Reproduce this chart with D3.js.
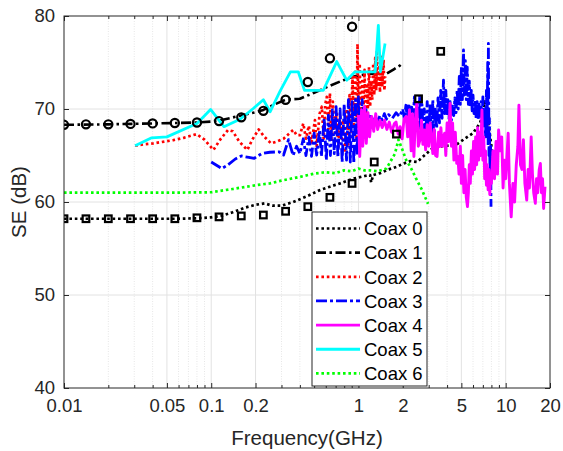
<!DOCTYPE html>
<html>
<head>
<meta charset="utf-8">
<script src="https://cdn.jsdelivr.net/npm/d3@7"></script>
<style>
  html, body { margin: 0; padding: 0; background: #ffffff; }
  svg text { font-family: "Liberation Sans", Arial, Helvetica, sans-serif; }
</style>
</head>
<body>
<svg id="chart" width="563" height="451"></svg>
<script>
// ---- Shielding effectiveness of seven coax samples vs frequency ----

// Coax 0: measured curve (GHz, dB)
const freqCoax0 = [0.01, 0.02, 0.04, 0.06, 0.08, 0.1, 0.12, 0.14, 0.17, 0.2, 0.23, 0.26, 0.3, 0.36, 0.445, 0.55, 0.64, 0.75, 0.92, 1.1, 1.2, 1.22, 1.26, 1.4, 1.6, 1.83, 2.0, 2.25, 2.5, 2.8, 3.25, 3.8, 4.65, 5.5, 6.0, 6.7, 7.0, 7.2, 7.4, 7.7, 8.0, 8.25, 8.5];
const seCoax0   = [58.2, 58.2, 58.2, 58.2, 58.25, 58.35, 58.55, 58.9, 59.4, 59.7, 59.85, 59.6, 59.6, 60.0, 60.6, 61.3, 61.65, 62.0, 62.5, 62.8, 62.9, 62.1, 62.9, 63.1, 63.5, 63.8, 64.1, 64.4, 64.3, 65.0, 65.9, 66.0, 66.2, 67.0, 67.4, 68.5, 69.5, 70.8, 70.0, 68.0, 66.0, 64.5, 63.8];

// Coax 0: calculated points (square markers)
const freqCoax0Pts = [0.01, 0.0141, 0.02, 0.0283, 0.04, 0.0566, 0.08, 0.113, 0.16, 0.226, 0.32, 0.453, 0.64, 0.905, 1.28, 1.81, 2.56, 3.62];
const seCoax0Pts   = [58.2, 58.2, 58.2, 58.2, 58.2, 58.2, 58.3, 58.4, 58.5, 58.6, 59.0, 59.5, 60.5, 62.0, 64.3, 67.3, 71.1, 76.2];

// Coax 1: measured curve
const freqCoax1 = [0.01, 0.02, 0.04, 0.06, 0.08, 0.1, 0.12, 0.15, 0.2, 0.226, 0.27, 0.32, 0.4, 0.5, 0.6, 0.75, 0.92, 1.2, 1.55, 1.75, 1.92, 1.98];
const seCoax1   = [68.3, 68.35, 68.45, 68.5, 68.55, 68.65, 68.85, 69.2, 69.65, 69.9, 70.5, 71.0, 71.1, 71.75, 72.3, 72.95, 73.5, 73.8, 73.8, 74.3, 74.7, 74.9];

// Coax 1: calculated points (circle markers)
const freqCoax1Pts = [0.01, 0.0141, 0.02, 0.0283, 0.04, 0.0566, 0.08, 0.113, 0.16, 0.226, 0.32, 0.453, 0.64, 0.905];
const seCoax1Pts   = [68.3, 68.35, 68.35, 68.4, 68.45, 68.5, 68.55, 68.7, 69.1, 69.8, 71.0, 72.9, 75.45, 78.85];

// Coax 2
const freqCoax2 = [0.0304, 0.035, 0.0404, 0.048, 0.0553, 0.065, 0.0797, 0.09, 0.1035, 0.115, 0.13, 0.14, 0.155, 0.176, 0.19, 0.21, 0.23, 0.255, 0.28, 0.31, 0.335, 0.361, 0.38, 0.401, 0.422, 0.44, 0.46, 0.48, 0.5065, 0.52, 0.545, 0.5638, 0.58, 0.595, 0.609, 0.625, 0.64, 0.655, 0.67, 0.69, 0.71, 0.73, 0.75, 0.77, 0.79, 0.81, 0.83, 0.85, 0.87, 0.89, 0.91, 0.93, 0.95, 0.97, 0.985, 1.0, 1.02, 1.04, 1.06, 1.08, 1.1, 1.12, 1.14, 1.16, 1.18, 1.2, 1.22, 1.24, 1.26, 1.28, 1.3, 1.32, 1.335, 1.36, 1.38, 1.4, 1.42, 1.45, 1.48, 1.5, 1.52];
const seCoax2   = [66.05, 66.2, 66.3, 66.5, 66.65, 66.9, 67.3, 66.7, 65.6, 66.7, 67.75, 67.6, 66.5, 65.6, 66.7, 67.8, 67.0, 66.3, 66.5, 66.8, 67.3, 67.75, 67.2, 67.2, 68.45, 66.8, 68.2, 66.4, 68.8, 66.0, 69.5, 70.25, 66.8, 70.5, 71.3, 67.8, 71.7, 66.5, 70.8, 67.4, 69.6, 65.9, 69.2, 66.8, 68.8, 65.3, 70.0, 66.2, 71.5, 67.0, 73.5, 68.0, 74.0, 66.7, 77.0, 69.5, 74.9, 68.0, 73.0, 69.5, 74.2, 68.5, 72.5, 70.2, 74.5, 70.25, 73.0, 71.0, 74.9, 71.5, 75.5, 72.0, 76.3, 72.4, 74.5, 71.8, 75.6, 72.4, 75.3, 72.0, 73.5];

// Coax 3
const freqCoax3 = [0.1, 0.11, 0.118, 0.13, 0.145, 0.16, 0.18, 0.196, 0.22, 0.25, 0.29, 0.31, 0.335, 0.36, 0.38, 0.4, 0.422, 0.44, 0.46, 0.48, 0.5, 0.52, 0.545, 0.56, 0.585, 0.605, 0.625, 0.645, 0.665, 0.685, 0.705, 0.725, 0.75, 0.775, 0.8, 0.83, 0.855, 0.88, 0.905, 0.93, 0.955, 0.98, 1.0, 1.03, 1.06, 1.09, 1.12, 1.15, 1.2, 1.25, 1.3, 1.35, 1.4, 1.45, 1.5, 1.55, 1.6, 1.7, 1.8, 1.9, 2.0, 2.05, 2.1, 2.15, 2.2, 2.25, 2.3, 2.35, 2.4, 2.45, 2.5, 2.55, 2.6, 2.65, 2.7, 2.75, 2.8, 2.87, 2.93, 3.0, 3.07, 3.14, 3.2, 3.25, 3.32, 3.4, 3.47, 3.55, 3.62, 3.7, 3.78, 3.85, 3.92, 3.98, 4.05, 4.12, 4.2, 4.28, 4.36, 4.44, 4.52, 4.6, 4.68, 4.76, 4.84, 4.92, 5.0, 5.08, 5.17, 5.24, 5.32, 5.4, 5.48, 5.58, 5.66, 5.75, 5.84, 5.92, 6.0, 6.1, 6.2, 6.3, 6.4, 6.5, 6.6, 6.7, 6.8, 6.9, 7.0, 7.1, 7.2, 7.3, 7.4, 7.48, 7.55, 7.6, 7.63, 7.7, 7.75, 7.8, 7.85, 7.9, 7.95];
const seCoax3   = [64.3, 63.9, 63.6, 64.0, 64.6, 64.95, 64.8, 64.7, 65.2, 65.35, 65.4, 65.05, 66.7, 65.0, 66.0, 65.2, 66.8, 65.0, 67.0, 64.9, 67.4, 65.05, 67.75, 64.9, 69.0, 64.5, 69.35, 65.0, 69.9, 65.2, 70.25, 64.8, 70.0, 64.3, 70.5, 64.5, 71.0, 64.3, 70.8, 64.15, 71.0, 65.0, 71.3, 66.0, 71.0, 69.2, 70.2, 68.5, 69.5, 68.3, 69.2, 68.6, 69.3, 68.8, 69.5, 68.9, 69.4, 69.0, 69.6, 69.2, 70.0, 68.9, 70.4, 69.0, 70.6, 68.6, 70.2, 68.8, 71.3, 68.2, 70.0, 67.8, 71.3, 68.0, 70.5, 67.5, 70.0, 67.2, 70.8, 67.75, 70.5, 66.8, 71.0, 66.3, 70.2, 68.0, 71.2, 68.5, 72.0, 69.0, 73.1, 69.5, 72.0, 69.5, 71.0, 69.0, 70.8, 68.8, 70.5, 69.3, 71.2, 69.6, 72.0, 70.0, 73.5, 70.5, 74.5, 71.0, 76.35, 71.5, 75.2, 71.0, 74.5, 70.5, 73.0, 70.25, 72.0, 69.8, 71.5, 69.5, 71.0, 69.0, 70.8, 68.8, 70.5, 69.2, 70.8, 68.5, 71.3, 68.0, 70.0, 67.0, 72.0, 68.0, 75.0, 66.0, 77.05, 65.0, 69.0, 64.9, 62.0, 66.0, 59.5];

// Coax 4
const freqCoax4 = [1.0, 1.02, 1.05, 1.07, 1.1, 1.13, 1.16, 1.19, 1.23, 1.27, 1.31, 1.35, 1.4, 1.45, 1.5, 1.56, 1.62, 1.68, 1.75, 1.8, 1.86, 1.92, 1.98, 2.04, 2.11, 2.16, 2.22, 2.28, 2.33, 2.38, 2.43, 2.49, 2.55, 2.62, 2.68, 2.74, 2.8, 2.86, 2.93, 3.0, 3.07, 3.13, 3.2, 3.27, 3.34, 3.42, 3.5, 3.56, 3.63, 3.7, 3.78, 3.85, 3.92, 4.0, 4.1, 4.19, 4.28, 4.36, 4.45, 4.55, 4.65, 4.73, 4.82, 4.92, 5.0, 5.1, 5.2, 5.3, 5.4, 5.5, 5.58, 5.66, 5.75, 5.85, 5.95, 6.05, 6.15, 6.25, 6.35, 6.45, 6.55, 6.65, 6.75, 6.9, 7.0, 7.1, 7.2, 7.3, 7.4, 7.5, 7.6, 7.7, 7.8, 7.9, 8.0, 8.2, 8.4, 8.6, 8.8, 8.95, 9.2, 9.4, 9.6, 9.8, 10.0, 10.2, 10.4, 10.6, 10.9, 11.2, 11.5, 11.8, 12.1, 12.3, 12.6, 12.9, 13.2, 13.5, 13.9, 14.2, 14.5, 14.9, 15.2, 15.5, 15.9, 16.2, 16.5, 16.9, 17.2, 17.5, 17.8, 18.1, 18.5];
const seCoax4   = [69.35, 64.9, 69.9, 66.0, 70.25, 66.3, 69.6, 67.0, 69.2, 67.6, 69.5, 67.8, 68.8, 68.0, 68.8, 67.8, 68.6, 67.5, 68.4, 68.6, 67.3, 68.1, 66.8, 68.9, 69.2, 67.0, 69.9, 65.5, 69.5, 64.9, 68.5, 70.6, 66.0, 66.7, 68.8, 66.2, 67.75, 65.6, 68.3, 66.0, 68.5, 67.0, 65.2, 67.8, 65.0, 64.9, 67.5, 65.95, 68.0, 66.0, 67.0, 67.4, 65.0, 68.5, 66.5, 70.6, 66.0, 68.5, 64.5, 67.5, 64.15, 64.9, 63.0, 66.0, 62.0, 65.0, 61.0, 63.5, 60.5, 59.5, 61.0, 64.0, 62.0, 65.5, 63.0, 66.5, 63.5, 67.0, 64.0, 68.0, 64.5, 67.5, 65.0, 69.9, 64.5, 67.0, 62.5, 65.5, 61.8, 64.0, 61.3, 63.5, 60.8, 63.0, 62.0, 65.5, 62.5, 66.5, 63.0, 67.75, 65.5, 67.0, 61.5, 64.5, 62.5, 65.0, 67.4, 62.0, 58.4, 62.0, 60.0, 64.0, 66.0, 70.4, 64.0, 63.5, 66.7, 62.0, 60.2, 63.5, 61.5, 67.0, 63.0, 61.0, 59.85, 62.5, 61.0, 63.5, 64.15, 61.0, 62.5, 59.3, 61.65];

// Coax 5
const freqCoax5 = [0.0304, 0.0394, 0.05, 0.08, 0.099, 0.122, 0.157, 0.193, 0.226, 0.251, 0.293, 0.345, 0.39, 0.43, 0.577, 0.712, 0.832, 0.948, 1.3, 1.365, 1.41, 1.516];
const seCoax5   = [66.05, 66.9, 67.0, 68.45, 69.95, 68.1, 68.9, 70.05, 71.0, 69.7, 71.9, 74.0, 74.0, 72.0, 72.0, 75.1, 73.1, 74.0, 74.0, 79.0, 74.0, 77.05];

// Coax 6
const freqCoax6 = [0.01, 0.02, 0.05, 0.1, 0.14, 0.2, 0.25, 0.3, 0.4, 0.5, 0.6, 0.7, 0.8, 0.9, 1.0, 1.1, 1.2, 1.35, 1.55, 1.77, 1.87, 2.0, 2.11, 2.25, 2.45, 2.7, 2.97];
const seCoax6   = [61.0, 61.0, 61.0, 61.05, 61.4, 61.8, 62.0, 62.3, 62.7, 63.05, 63.2, 63.1, 63.4, 63.3, 63.6, 63.4, 63.4, 63.3, 63.6, 65.2, 66.7, 65.5, 64.5, 63.8, 62.6, 61.3, 59.8];

// Axis ticks
const xTickValues = [0.01, 0.05, 0.1, 0.2, 1, 2, 5, 10, 20];
const xTickLabels = ["0.01", "0.05", "0.1", "0.2", "1", "2", "5", "10", "20"];
const xMinorValues = [0.02, 0.03, 0.04, 0.06, 0.07, 0.08, 0.09, 0.3, 0.4, 0.5, 0.6, 0.7, 0.8, 0.9, 3, 4, 6, 7, 8, 9];
const yTickValues = [40, 50, 60, 70, 80];

const seriesNames = ["Coax 0", "Coax 1", "Coax 2", "Coax 3", "Coax 4", "Coax 5", "Coax 6"];

// ---- drawing ----
const W = 563, H = 451;
const plot = { left: 64, right: 550, top: 16, bottom: 388 };

const x = d3.scaleLog().domain([0.01, 20]).range([plot.left, plot.right]);
const y = d3.scaleLinear().domain([40, 80]).range([plot.bottom, plot.top]);

const svg = d3.select("#chart");
svg.append("rect").attr("width", W).attr("height", H).attr("fill", "#ffffff");

const axisColor = "#262626";

// grid
const grid = svg.append("g");
grid.selectAll("line.minor").data(xMinorValues).join("line")
  .attr("x1", d => x(d)).attr("x2", d => x(d))
  .attr("y1", plot.top).attr("y2", plot.bottom)
  .attr("stroke", "#e6e6e6").attr("stroke-width", 1)
  .attr("stroke-dasharray", "1,1.5");
grid.selectAll("line.vmaj").data(xTickValues.slice(1, -1)).join("line")
  .attr("x1", d => x(d)).attr("x2", d => x(d))
  .attr("y1", plot.top).attr("y2", plot.bottom)
  .attr("stroke", "#e2e2e2").attr("stroke-width", 1);
grid.selectAll("line.hmaj").data(yTickValues.slice(1, -1)).join("line")
  .attr("x1", plot.left).attr("x2", plot.right)
  .attr("y1", d => y(d)).attr("y2", d => y(d))
  .attr("stroke", "#e2e2e2").attr("stroke-width", 1);

// clipping for the data
svg.append("defs").append("clipPath").attr("id", "plotClip")
  .append("rect").attr("x", plot.left).attr("y", plot.top)
  .attr("width", plot.right - plot.left).attr("height", plot.bottom - plot.top);

const zip = (fs, vs) => fs.map((f, i) => [f, vs[i]]);
const seriesData = [
  zip(freqCoax0, seCoax0), zip(freqCoax1, seCoax1), zip(freqCoax2, seCoax2),
  zip(freqCoax3, seCoax3), zip(freqCoax4, seCoax4), zip(freqCoax5, seCoax5),
  zip(freqCoax6, seCoax6)
];
const seriesStyle = [
  { color: "#000000", dash: "2.6,2.8", width: 2.7 },
  { color: "#000000", dash: "10,3.5,2.5,3.5", width: 2.6 },
  { color: "#ff0000", dash: "2.6,2.8", width: 2.7 },
  { color: "#0000ff", dash: "11,3,3,3", width: 2.8 },
  { color: "#ff00ff", dash: null, width: 2.9 },
  { color: "#00ffff", dash: null, width: 2.8 },
  { color: "#00ff00", dash: "2.6,2.8", width: 2.7 }
];

const line = d3.line().x(d => x(d[0])).y(d => y(d[1]));
const dataG = svg.append("g").attr("clip-path", "url(#plotClip)");
seriesData.forEach((pts, i) => {
  const st = seriesStyle[i];
  dataG.append("path").datum(pts)
    .attr("d", line)
    .attr("fill", "none")
    .attr("stroke", st.color)
    .attr("stroke-width", st.width)
    .attr("stroke-linejoin", "round")
    .attr("stroke-dasharray", st.dash);
});

// markers
const sq = 6.6;
dataG.selectAll("rect.m0").data(zip(freqCoax0Pts, seCoax0Pts)).join("rect")
  .attr("x", d => x(d[0]) - sq / 2).attr("y", d => y(d[1]) - sq / 2)
  .attr("width", sq).attr("height", sq)
  .attr("fill", "none").attr("stroke", "#000").attr("stroke-width", 2.2);
dataG.selectAll("circle.m1").data(zip(freqCoax1Pts, seCoax1Pts)).join("circle")
  .attr("cx", d => x(d[0])).attr("cy", d => y(d[1])).attr("r", 4.1)
  .attr("fill", "none").attr("stroke", "#000").attr("stroke-width", 2.2);

// axes
const fontTick = 18.5;
const xAxisB = svg.append("g").attr("transform", `translate(0,${plot.bottom})`)
  .call(d3.axisBottom(x).tickValues(xTickValues).tickFormat((d, i) => xTickLabels[i])
    .tickSizeInner(-5).tickSizeOuter(0).tickPadding(0));
xAxisB.selectAll("text").attr("y", 23.5).attr("dy", null)
  .attr("font-size", fontTick).attr("fill", axisColor).style("font-family", '"Liberation Sans", Arial, sans-serif');
svg.append("g").attr("transform", `translate(0,${plot.bottom})`)
  .call(d3.axisBottom(x).tickValues(xMinorValues).tickFormat("").tickSizeInner(-3).tickSizeOuter(0));
svg.append("g").attr("transform", `translate(0,${plot.top})`)
  .call(d3.axisTop(x).tickValues(xTickValues).tickFormat("").tickSizeInner(-5).tickSizeOuter(0));
svg.append("g").attr("transform", `translate(0,${plot.top})`)
  .call(d3.axisTop(x).tickValues(xMinorValues).tickFormat("").tickSizeInner(-3).tickSizeOuter(0));

const yAxisL = svg.append("g").attr("transform", `translate(${plot.left},0)`)
  .call(d3.axisLeft(y).tickValues(yTickValues).tickSizeInner(-5).tickSizeOuter(0).tickPadding(9));
yAxisL.selectAll("text").attr("font-size", fontTick).attr("fill", axisColor)
  .style("font-family", '"Liberation Sans", Arial, sans-serif');
svg.append("g").attr("transform", `translate(${plot.right},0)`)
  .call(d3.axisRight(y).tickValues(yTickValues).tickFormat("").tickSizeInner(-5).tickSizeOuter(0));

svg.selectAll(".domain").remove();
svg.selectAll(".tick line").attr("stroke", axisColor).attr("stroke-width", 1);

// axes box
svg.append("rect").attr("x", plot.left).attr("y", plot.top)
  .attr("width", plot.right - plot.left).attr("height", plot.bottom - plot.top)
  .attr("fill", "none").attr("stroke", axisColor).attr("stroke-width", 1);

// axis labels
svg.append("text").attr("x", (plot.left + plot.right) / 2).attr("y", 445)
  .attr("text-anchor", "middle").attr("font-size", 20.5).attr("fill", axisColor)
  .text("Frequency(GHz)");
svg.append("text")
  .attr("transform", `translate(26,${(plot.top + plot.bottom) / 2}) rotate(-90)`)
  .attr("text-anchor", "middle").attr("font-size", 20.5).attr("fill", axisColor)
  .text("SE (dB)");

// legend
const lg = { x: 312, y: 212, w: 115, h: 174 };
const legend = svg.append("g");
legend.append("rect").attr("x", lg.x).attr("y", lg.y).attr("width", lg.w).attr("height", lg.h)
  .attr("fill", "#ffffff").attr("stroke", axisColor).attr("stroke-width", 1);
seriesNames.forEach((name, i) => {
  const base = 235.3 + i * 24.15;
  const st = seriesStyle[i];
  legend.append("line")
    .attr("x1", lg.x + 4).attr("x2", lg.x + 48)
    .attr("y1", base - 6.8).attr("y2", base - 6.8)
    .attr("stroke", st.color).attr("stroke-width", st.width)
    .attr("stroke-dasharray", st.dash);
  legend.append("text").attr("x", lg.x + 52).attr("y", base)
    .attr("font-size", 18.5).attr("fill", "#000").text(name);
});
</script>
</body>
</html>
